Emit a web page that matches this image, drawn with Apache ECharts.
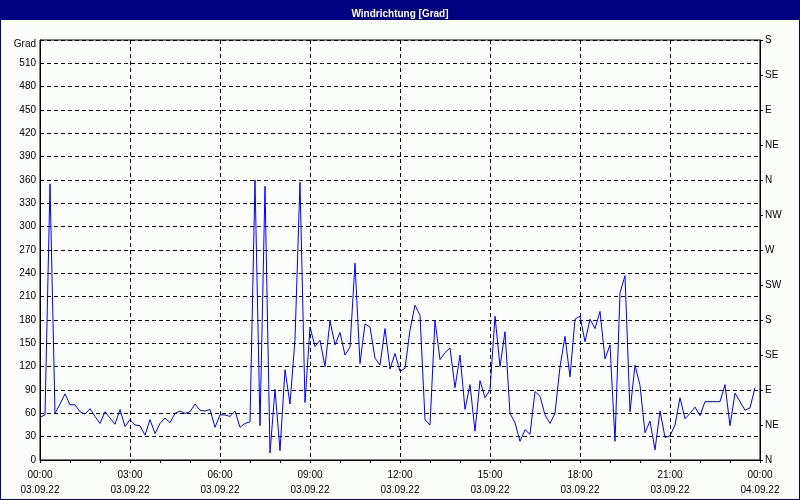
<!DOCTYPE html>
<html>
<head>
<meta charset="utf-8">
<script src="https://cdn.jsdelivr.net/npm/echarts@6/dist/echarts.min.js"></script>
<style>
  html, body { margin: 0; padding: 0; }
  #chart { width: 800px; height: 500px; }
</style>
</head>
<body>
<div id="chart"></div>
<script>
// Windrichtung, 10-Minuten-Werte ab 03.09.22 00:00
var stepMinutes = 10
var direction = [
  55, 58, 355, 60, 72, 85, 71, 71, 62, 59, 66, 56, 47, 62, 54, 46, 65, 43, 52, 45,
  44, 32, 52, 34, 47, 54, 48, 60, 63, 60, 62, 72, 64, 63, 65, 42, 58, 58, 56, 63,
  42, 47, 49, 360, 44, 352, 9, 91, 12, 116, 72, 155, 357, 74, 171, 146, 154, 120, 179, 148,
  164, 135, 145, 253, 124, 175, 171, 131, 122, 169, 117, 137, 114, 118, 167, 199, 186, 52, 45, 179,
  129, 138, 144, 93, 135, 65, 97, 37, 102, 80, 90, 185, 120, 165, 60, 48, 24, 39, 33, 88,
  82, 58, 47, 60, 120, 159, 107, 181, 185, 152, 181, 169, 191, 130, 148, 24, 215, 237, 62, 122,
  96, 35, 50, 13, 63, 29, 31, 45, 80, 53, 60, 68, 57, 75, 75, 75, 75, 97, 44, 86,
  75, 64, 67, 93
]
var hourLabels = ['00:00', '03:00', '06:00', '09:00', '12:00', '15:00', '18:00', '21:00', '00:00']
var dateLabels = ['03.09.22', '03.09.22', '03.09.22', '03.09.22', '03.09.22', '03.09.22', '03.09.22', '03.09.22', '04.09.22']
var compassLabels = ['N', 'NE', 'E', 'SE', 'S', 'SW', 'W', 'NW', 'N', 'NE', 'E', 'SE', 'S']

var points = direction.map(function (v, i) { return [i * stepMinutes, v] })

var font = 'Liberation Sans'
var myChart = echarts.init(document.getElementById('chart'))
myChart.setOption({
  backgroundColor: '#fbfdfb',
  animation: false,
  title: {
    text: 'Windrichtung [Grad]',
    left: 'center',
    top: 4,
    textStyle: { color: '#ffffff', fontSize: 10, fontWeight: 'bold', fontFamily: font }
  },
  graphic: [
    { type: 'rect', z: -1, shape: { x: 0, y: 0, width: 800, height: 20 }, style: { fill: '#000080' } },
    { type: 'rect', z: -1, shape: { x: 0.5, y: 0.5, width: 799, height: 499 }, style: { fill: null, stroke: '#000080', lineWidth: 1 } }
  ],
  grid: {
    left: 40, right: 40, top: 40, bottom: 40,
    show: true, borderColor: '#000', borderWidth: 1
  },
  xAxis: {
    type: 'value',
    min: 0, max: 1440, interval: 180,
    axisLine: { lineStyle: { color: '#000' } },
    axisTick: { show: true, length: 3, lineStyle: { color: '#000' } },
    minorTick: { show: true, splitNumber: 3, length: 3, lineStyle: { color: '#000' } },
    splitLine: { show: true, lineStyle: { color: '#000', type: [4, 3] } },
    axisLabel: {
      color: '#000', fontSize: 10, fontFamily: font, margin: 8, lineHeight: 15,
      formatter: function (v) {
        var k = Math.round(v / 180)
        return hourLabels[k] + '\n' + dateLabels[k]
      }
    }
  },
  yAxis: [{
    type: 'value',
    min: 0, max: 540, interval: 30,
    name: 'Grad',
    nameLocation: 'end',
    nameGap: -4,
    nameTextStyle: { color: '#000', fontSize: 10, fontFamily: font, align: 'right', verticalAlign: 'middle', padding: [0, 4, 0, 0] },
    axisLine: { show: true, lineStyle: { color: '#000' } },
    axisTick: { show: false },
    splitLine: { show: true, lineStyle: { color: '#000', type: [4, 3] } },
    axisLabel: {
      color: '#000', fontSize: 10, fontFamily: font, margin: 4,
      formatter: function (v) { return v === 540 ? '' : v }
    }
  }, {
    type: 'value',
    position: 'right',
    min: 0, max: 540, interval: 45,
    axisLine: { show: true, lineStyle: { color: '#000' } },
    axisTick: { show: true, length: 3, lineStyle: { color: '#000' } },
    splitLine: { show: false },
    axisLabel: {
      color: '#000', fontSize: 10, fontFamily: font, margin: 5,
      formatter: function (v) { return compassLabels[Math.round(v / 45)] }
    }
  }],
  series: [{
    name: 'Windrichtung',
    type: 'line',
    data: points,
    showSymbol: false,
    lineStyle: { color: '#0000ff', width: 1 }
  }]
})
</script>
</body>
</html>
